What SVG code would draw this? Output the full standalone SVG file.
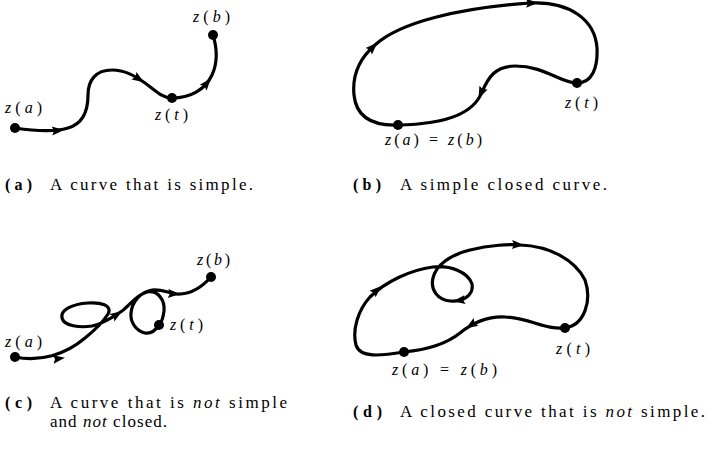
<svg xmlns="http://www.w3.org/2000/svg" xmlns:xlink="http://www.w3.org/1999/xlink" width="708" height="454" viewBox="0 0 708 454">
<style>
.c{fill:none;stroke:#000;stroke-width:3.2;stroke-linecap:round;stroke-linejoin:round}
.d{fill:#000}
.lb{font-family:"Liberation Serif","Times New Roman",serif;font-size:16px;fill:#000}
.cap{font-family:"Liberation Serif","Times New Roman",serif;font-size:17px;fill:#000}
.tag{font-family:"Liberation Serif","Times New Roman",serif;font-size:16px;font-weight:bold;fill:#000}
.i{font-style:italic}
</style>
<defs>
<path id="ah" d="M-6,-4.5 L6,0 L-6,4.5 L-4,0 Z" fill="#000"/>
</defs>
<rect width="708" height="454" fill="#fff"/>

<g id="panel-a">
<path class="c" d="M15,128 C35,131 55,132 68,128 C82,124 88,112 88,95 C88,80 96,70 112,70 C125,70 135,76 145,83 C155,90 162,98 172,98 C190,98 205,90 212,75 C218,62 217,48 213,35"/>
<use xlink:href="#ah" transform="translate(58,130.5) rotate(-4)"/>
<use xlink:href="#ah" transform="translate(139,79) rotate(33)"/>
<use xlink:href="#ah" transform="translate(207,83) rotate(-50)"/>
<circle class="d" cx="15" cy="128" r="5"/>
<circle class="d" cx="172" cy="98" r="5"/>
<circle class="d" cx="213" cy="35" r="5"/>
<text class="lb" x="193" y="22" textLength="37" lengthAdjust="spacing"><tspan class="i">z</tspan>(<tspan class="i">b</tspan>)</text>
<text class="lb" x="5" y="113" textLength="37" lengthAdjust="spacing"><tspan class="i">z</tspan>(<tspan class="i">a</tspan>)</text>
<text class="lb" x="155" y="120" textLength="33" lengthAdjust="spacing"><tspan class="i">z</tspan>(<tspan class="i">t</tspan>)</text>
<text class="tag" x="5" y="190" textLength="27" lengthAdjust="spacing">(a)</text>
<text class="cap" x="50" y="190" textLength="203" lengthAdjust="spacing">A curve that is simple.</text>
</g>

<g id="panel-b">
<path class="c" d="M398,125 C370,126 356,115 354,95 C352,75 360,58 375,45 C400,22 460,8 530,3 C570,1 595,20 597,48 C598,68 592,83 577,83 C560,83 545,66 515,66 C495,66 488,78 482,92 C474,112 450,124 398,125 Z"/>
<use xlink:href="#ah" transform="translate(373,47) rotate(-45)"/>
<use xlink:href="#ah" transform="translate(532,3) rotate(-2)"/>
<use xlink:href="#ah" transform="translate(481,93) rotate(115)"/>
<circle class="d" cx="398" cy="125" r="5"/>
<circle class="d" cx="577" cy="83" r="5"/>
<text class="lb" x="565" y="108" textLength="33" lengthAdjust="spacing"><tspan class="i">z</tspan>(<tspan class="i">t</tspan>)</text>
<text class="lb" x="385" y="145" textLength="97" lengthAdjust="spacing"><tspan class="i">z</tspan>(<tspan class="i">a</tspan>) = <tspan class="i">z</tspan>(<tspan class="i">b</tspan>)</text>
<text class="tag" x="353" y="190" textLength="28" lengthAdjust="spacing">(b)</text>
<text class="cap" x="400" y="190" textLength="207" lengthAdjust="spacing">A simple closed curve.</text>
</g>

<g id="panel-c">
<path class="c" d="M15,357 C40,362 65,355 85,338 C95,330 103,322 108,314 C113,305 100,302 88,303 C72,304 60,310 62,318 C64,326 80,328 92,326 C102,324 112,318 122,311 C130,305 136,295 147,292 C158,290 165,300 164,311 C163,319 161,323 159,325 C155,331 150,334 145,333 C136,331 130,322 131,313 C132,302 140,292 152,290 C162,289 168,293 176,294 C190,295 202,287 211,277"/>
<use xlink:href="#ah" transform="translate(59,358.5) rotate(-8)"/>
<use xlink:href="#ah" transform="translate(117,314.5) rotate(-33)"/>
<use xlink:href="#ah" transform="translate(174,293.8) rotate(3)"/>
<circle class="d" cx="15" cy="357" r="5"/>
<circle class="d" cx="159" cy="325" r="5"/>
<circle class="d" cx="211" cy="277" r="5"/>
<text class="lb" x="197" y="265" textLength="33" lengthAdjust="spacing"><tspan class="i">z</tspan>(<tspan class="i">b</tspan>)</text>
<text class="lb" x="170" y="330" textLength="33" lengthAdjust="spacing"><tspan class="i">z</tspan>(<tspan class="i">t</tspan>)</text>
<text class="lb" x="5" y="347" textLength="37" lengthAdjust="spacing"><tspan class="i">z</tspan>(<tspan class="i">a</tspan>)</text>
<text class="tag" x="5" y="408" textLength="27" lengthAdjust="spacing">(c)</text>
<text class="cap" x="50" y="408" textLength="237" lengthAdjust="spacing">A curve that is <tspan class="i">not</tspan> simple</text>
<text class="cap" x="50" y="427" textLength="117" lengthAdjust="spacing">and <tspan class="i">not</tspan> closed.</text>
</g>

<g id="panel-d">
<path class="c" d="M404,352 C380,356 360,358 356,345 C352,330 358,310 370,297 C385,282 410,270 433,267 C450,265 468,272 472,284 C474,296 462,302 450,301 C438,300 430,290 433,278 C436,265 450,255 470,250 C490,245 510,244 520,245 C550,246 575,260 585,280 C592,300 585,325 565,328 C545,330 530,318 505,317 C485,316 470,325 460,333 C445,345 425,350 404,352 Z"/>
<use xlink:href="#ah" transform="translate(377,290) rotate(-42)"/>
<use xlink:href="#ah" transform="translate(459,300.5) rotate(172)"/>
<use xlink:href="#ah" transform="translate(518,244.8) rotate(2)"/>
<use xlink:href="#ah" transform="translate(471,325) rotate(148)"/>
<circle class="d" cx="404" cy="352" r="5"/>
<circle class="d" cx="565" cy="328" r="5"/>
<text class="lb" x="556" y="354" textLength="34" lengthAdjust="spacing"><tspan class="i">z</tspan>(<tspan class="i">t</tspan>)</text>
<text class="lb" x="392" y="375" textLength="105" lengthAdjust="spacing"><tspan class="i">z</tspan>(<tspan class="i">a</tspan>) = <tspan class="i">z</tspan>(<tspan class="i">b</tspan>)</text>
<text class="tag" x="353" y="417" textLength="29" lengthAdjust="spacing">(d)</text>
<text class="cap" x="400" y="417" textLength="305" lengthAdjust="spacing">A closed curve that is <tspan class="i">not</tspan> simple.</text>
</g>
</svg>
